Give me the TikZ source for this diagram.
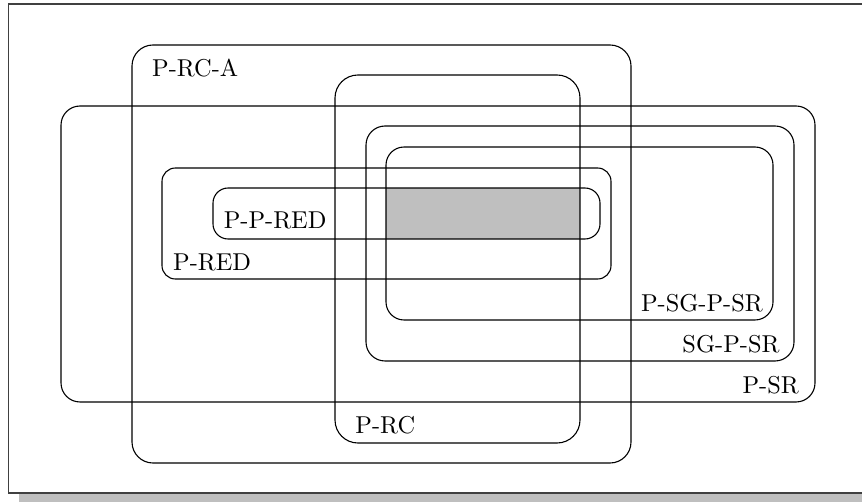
\documentclass[tikz,border=0pt]{standalone}
\begin{document}
\begin{tikzpicture}[x=0.41pt,y=-0.41pt,
  setbox/.style={draw=black,line width=0.45pt},
  lbl/.style={inner sep=0pt,font=\normalsize},
  frameline/.style={draw=black!75,line width=0.6pt},
  shadowfill/.style={fill=black!25,draw=none}]
\useasboundingbox (0,0) rectangle (862,502);
\clip (0,0) rectangle (862,502);
% shadow and frame
\fill[shadowfill] (19,494) rectangle (890,512);
\fill[white] (8.5,4) rectangle (880,493);
\draw[frameline] (8.5,4) rectangle (880,493);
% shaded intersection
\fill[black!25] (386,188) rectangle (580,239);
% sets
\draw[setbox,rounded corners=8.6pt] (132,45) rectangle (631,463);
\draw[setbox,rounded corners=9.4pt] (335,75) rectangle (580,443);
\draw[setbox,rounded corners=7.8pt] (61,106) rectangle (815,402);
\draw[setbox,rounded corners=7.8pt] (366,126) rectangle (794,361);
\draw[setbox,rounded corners=7.4pt] (386,147) rectangle (773,320);
\draw[setbox,rounded corners=5.5pt] (162,168) rectangle (611,279);
\draw[setbox,rounded corners=6.2pt] (213,188) rectangle (600,239);
% labels
\node[lbl,anchor=west] (lprca) at (151.7,68) {P-RC-A};
\node[lbl,anchor=west] (lppred) at (223.3,220.7) {P-P-RED};
\node[lbl,anchor=west] (lpred) at (172.7,262.7) {P-RED};
\node[lbl,anchor=east] (lpsgpsr) at (763.3,303) {P-SG-P-SR};
\node[lbl,anchor=east] (lsgpsr) at (780,344) {SG-P-SR};
\node[lbl,anchor=east] (lpsr) at (799.3,385) {P-SR};
\node[lbl,anchor=west] (lprc) at (355,425) {P-RC};
\end{tikzpicture}
\end{document}
